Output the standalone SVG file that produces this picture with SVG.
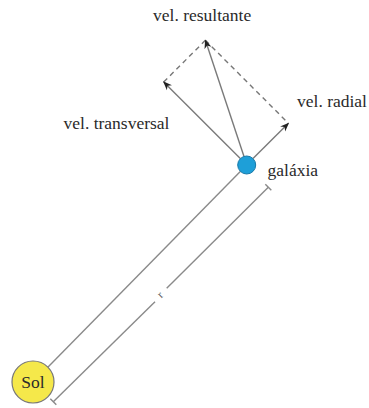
<svg xmlns="http://www.w3.org/2000/svg" width="369" height="408" viewBox="0 0 369 408">
<style>
text{font-family:'Liberation Serif',serif;font-size:17.5px;fill:#2a2a2a}
.ln{stroke:#8a8a8a;stroke-width:1.4;fill:none}
.dash{stroke:#777;stroke-width:1.4;fill:none;stroke-dasharray:5,4}
.arr{stroke:#7a7a7a;stroke-width:1.4;fill:none;marker-end:url(#ah)}
</style>
<defs>
<marker id="ah" viewBox="0 0 10 10" refX="9" refY="5" markerWidth="9" markerHeight="9" markerUnits="userSpaceOnUse" orient="auto">
<path d="M0,1 L10,5 L0,9 L3,5 Z" fill="#222"/>
</marker>
</defs>
<rect width="369" height="408" fill="#fff"/>
<g id="connectors">
<line class="ln" x1="47.8" y1="367.2" x2="240.3" y2="171.4"/>
<line class="dash" x1="163.7" y1="82" x2="205.4" y2="40.3"/>
<line class="dash" x1="205.4" y1="40.3" x2="288.4" y2="123.3"/>
<line class="arr" x1="253" y1="158.6" x2="288.4" y2="123.3"/>
<line class="arr" x1="240.3" y1="158.6" x2="163.7" y2="82"/>
<line class="arr" x1="244" y1="156.5" x2="205.4" y2="40.3"/>
<g id="dimension">
<line class="ln" x1="268.3" y1="187.3" x2="166.7" y2="288.3"/>
<line class="ln" x1="155" y1="301.7" x2="53.3" y2="401.7"/>
<line class="ln" x1="265.3" y1="184.3" x2="271.3" y2="190.3"/>
<line class="ln" x1="50.3" y1="398.7" x2="56.3" y2="404.7"/>
<text x="160.5" y="298" style="font-size:11px;fill:#555" text-anchor="middle" transform="rotate(-45 160.5 295)">r</text>
</g>
</g>
<g id="galaxia">
<circle cx="246.7" cy="165" r="9" fill="#1e9fd8" stroke="#1678a8" stroke-width="1"/>
<text x="267.5" y="176">galáxia</text>
</g>
<g id="sol">
<circle cx="33" cy="382" r="21" fill="#f5e84a" stroke="#777" stroke-width="1.2"/>
<text x="33" y="387.5" text-anchor="middle">Sol</text>
</g>
<g id="resultante"><text x="153" y="20.5">vel. resultante</text></g>
<g id="transversal"><text x="63.5" y="128.5">vel. transversal</text></g>
<g id="radial"><text x="297" y="107">vel. radial</text></g>
</svg>
